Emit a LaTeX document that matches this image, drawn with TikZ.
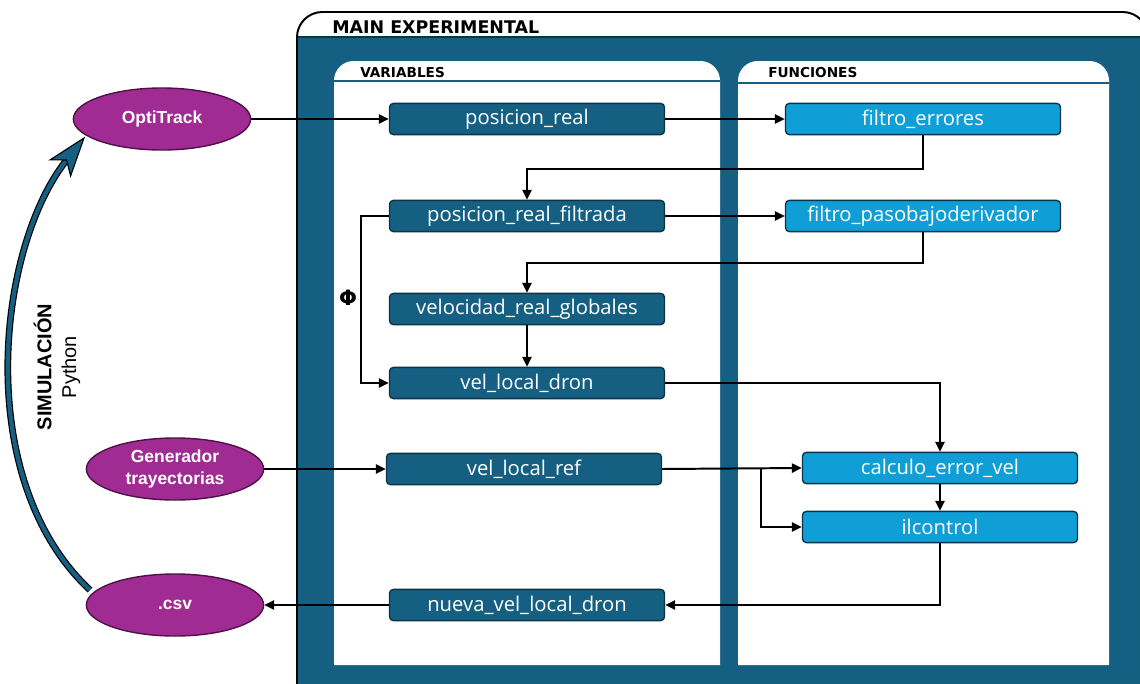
\documentclass[tikz,border=0pt]{standalone}
\usepackage{fontspec}
\setmainfont{Open Sans}
\newfontfamily\hdfont{DejaVu Sans}
\newfontfamily\libfont{Liberation Sans}
\usetikzlibrary{arrows.meta,calc,shapes.geometric}
\definecolor{acc}{HTML}{156082}
\definecolor{accdk}{HTML}{0B3446}
\definecolor{lblue}{HTML}{0F9ED5}
\definecolor{purp}{HTML}{A02B93}
\definecolor{purpdk}{HTML}{4E1247}
\tikzset{
  darkbox/.style={rectangle, rounded corners=2.8pt, fill=acc, draw=accdk, line width=1pt,
    minimum width=6.875cm, minimum height=0.78cm, inner sep=0pt, text=white,
    font=\fontsize{14.4}{16}\selectfont},
  lightbox/.style={darkbox, fill=lblue},
  ellnode/.style={ellipse, fill=purp, draw=purpdk, line width=1pt, text=white, align=center,
    inner sep=0pt, minimum width=4.43cm, minimum height=1.55cm,
    font=\libfont\bfseries\fontsize{12.4}{15.4}\selectfont},
  conn/.style={line width=1.4pt, draw=black, -{Triangle[length=7pt,width=6.5pt]}},
  hdtext/.style={anchor=base west, inner sep=0pt, font=\hdfont\bfseries\fontsize{9.7}{11}\selectfont}
}
\begin{document}
\begin{tikzpicture}[x=0.025cm,y=-0.025cm]
\useasboundingbox (0,0) rectangle (1140,684);
% main frame
\path[fill=white, rounded corners=18pt] (297,12) rectangle (1148,720);
\fill[acc] (297,37) rectangle (1148,720);
\draw[accdk, line width=1pt] (297,37) -- (1148,37);
\draw[black, line width=1.4pt, rounded corners=18pt] (297,720) -- (297,12) -- (1148,12) -- (1148,720);
\node[anchor=base west, inner sep=0pt, font=\hdfont\bfseries\fontsize{12.4}{14}\selectfont] (lmain) at (332,33) {MAIN EXPERIMENTAL};
% panels
\fill[white] (334,665) -- (334,100) {[rounded corners=14pt] -- (334,61) -- (720,61) -- (720,100)} -- (720,665) -- cycle;
\fill[white] (738,665) -- (738,100) {[rounded corners=14pt] -- (738,61) -- (1109,61) -- (1109,100)} -- (1109,665) -- cycle;
\draw[acc, line width=1.2pt] (334,81) -- (720,81);
\draw[acc, line width=1.2pt] (738,83) -- (1109,83);
\node[hdtext] (lvar) at (360,77) {VARIABLES};
\node[hdtext] (lfun) at (768,77) {FUNCIONES};
% variable nodes
\node[darkbox] (posreal) at (527,119) {posicion\_real};
\node[darkbox] (posfilt) at (527,216) {posicion\_real\_filtrada};
\node[darkbox] (velglob) at (527,309) {velocidad\_real\_globales};
\node[darkbox] (veldron) at (527,383) {vel\_local\_dron};
\node[darkbox] (velref) at (524,469) {vel\_local\_ref};
\node[darkbox] (nueva) at (527,605) {nueva\_vel\_local\_dron};
% function nodes
\node[lightbox] (ferr) at (923,119) {filtro\_errores};
\node[lightbox] (fpb) at (923,216) {filtro\_pasobajoderivador};
\node[lightbox] (calc) at (940,468) {calculo\_error\_vel};
\node[lightbox] (ilc) at (940,527) {ilcontrol};
% ellipses
\node[ellnode] (opti) at (162,119) {OptiTrack};
\node[ellnode] (gen) at (175,469) {Generador\\trayectorias};
\node[ellnode] (csv) at (175,605) {.csv};
% connectors
\draw[conn] (opti.east) -- (posreal.west);
\draw[conn] (posreal.east) -- (ferr.west);
\draw[conn] (ferr.south) -- ++(0,34) -| (posfilt.north);
\draw[conn] (posfilt.east) -- (fpb.west);
\draw[conn] (fpb.south) -- ++(0,31) -| (velglob.north);
\draw[conn] (velglob.south) -- (veldron.north);
\draw[conn] (posfilt.west) -- ++(-28,0) |- (veldron.west);
\node[font=\hdfont\bfseries\fontsize{15}{15}\selectfont, inner sep=0pt] (phi) at (348,298) {Φ};
\draw[conn] (veldron.east) -| (calc.north);
\draw[conn] (gen.east) -- (velref.west);
\draw[conn] (velref.east) -- (calc.west);
\coordinate (br) at ($(velref.east)!0.71!(calc.west)$);
\draw[conn] (br) |- (ilc.west);
\draw[conn] (calc.south) -- (ilc.north);
\draw[conn] (ilc.south) |- (nueva.east);
\draw[conn] (nueva.west) -- (csv.east);
% simulation loop arrow
\coordinate (sA) at ($(csv.center)+(-85,-15)$);
\coordinate (aT) at ($(opti.center)+(-78,19)$);
\coordinate (aN) at ($(aT)+(-17.4,22)$);
\coordinate (aB1) at ($(aT)+(-13.4,37.9)$);
\coordinate (aB2) at ($(aT)+(-33.8,21.8)$);
\draw[black, line width=4.8pt] (sA) .. controls ($(sA)+(-118,-110)$) and ($(aN)+(-70,88)$) .. (aN);
\draw[acc, line width=3.1pt] (sA) .. controls ($(sA)+(-118,-110)$) and ($(aN)+(-70,88)$) .. (aN);
\filldraw[fill=acc, draw=black, line width=0.8pt, line join=miter] (aT) -- (aB1) -- (aN) -- (aB2) -- cycle;
\node[rotate=90, align=center, inner sep=0pt, font=\libfont\fontsize{14.2}{17.5}\selectfont] (sim) at (57,367) {{\bfseries SIMULACIÓN}\\Python};
\end{tikzpicture}
\end{document}
